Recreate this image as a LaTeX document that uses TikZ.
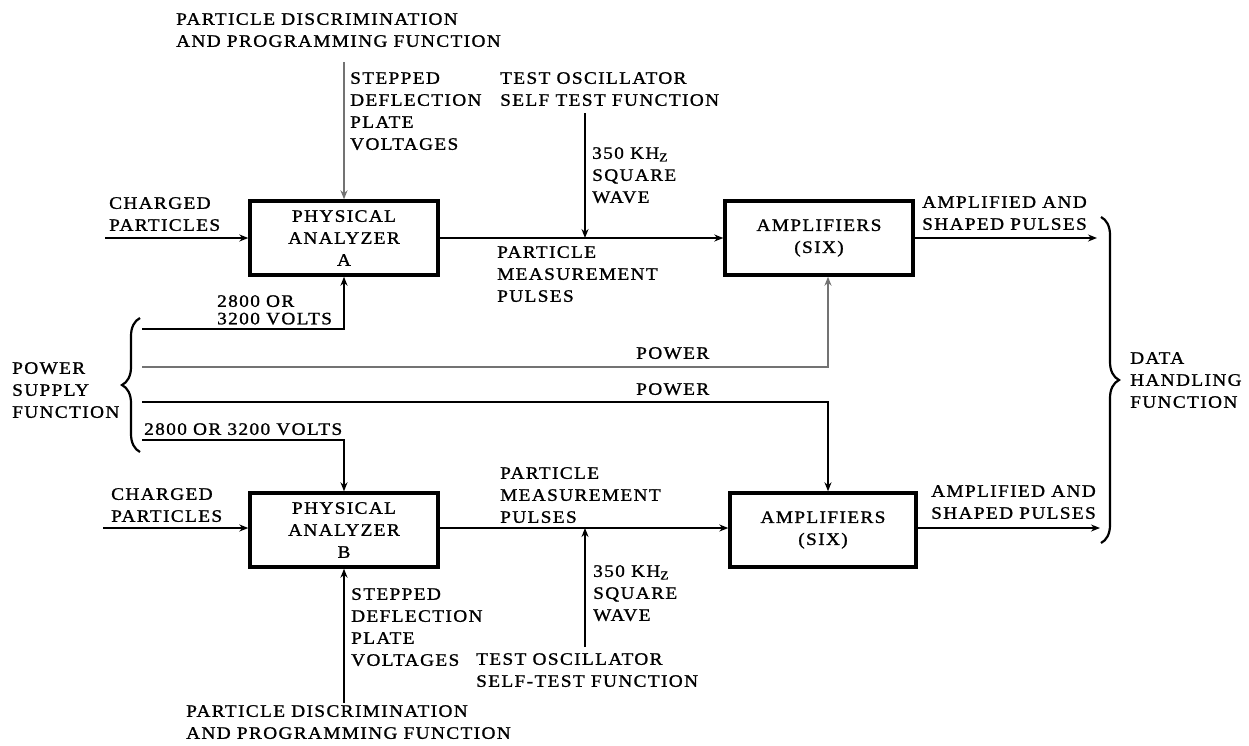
\documentclass[tikz,border=0pt]{standalone}
\usepackage{fontspec}
\setmainfont{Liberation Serif}[FakeStretch=1.1, LetterSpace=8, FakeBold=1.2]
\usetikzlibrary{arrows.meta, positioning, decorations.pathreplacing}

\newcommand{\lbfont}{\fontsize{17.5}{22}\selectfont}

\begin{document}
\begin{tikzpicture}[x=1pt, y=-1pt, >={Stealth[length=9pt,width=7pt]},
    box/.style={draw, line width=3.4pt, minimum width=188pt, minimum height=74pt,
                inner sep=0pt, align=center, font=\lbfont},
    lbl/.style={anchor=north west, inner sep=0pt, align=left, font=\lbfont},
    conn/.style={->, line width=2pt},
    faint/.style={draw=black!55},
    curly/.style={decorate, line width=2.2pt, decoration={brace, amplitude=18pt}}]
    \useasboundingbox (0,0) rectangle (1249,745);

    % blocks
    \node[box] (anaA) at (344,238) {PHYSICAL\\ANALYZER\\A};
    \node[box] (ampA) at (819,238) {AMPLIFIERS\\(SIX)};
    \node[box] (anaB) at (344,530) {PHYSICAL\\ANALYZER\\B};
    \node[box, minimum width=186pt] (ampB) at (823,530) {AMPLIFIERS\\(SIX)};

    % free ends
    \coordinate (chA) at (105,238);
    \coordinate (chB) at (103,528);
    \coordinate (sdA) at (344,62);
    \coordinate (sdB) at (344,703);
    \coordinate (oscA) at (585,113);
    \coordinate (oscB) at (585,647);
    \coordinate (outA) at (1097,238);
    \coordinate (outB) at (1100,528);
    \coordinate (hvA) at (142,329);
    \coordinate (pwA) at (142,367);
    \coordinate (pwB) at (142,402);
    \coordinate (hvB) at (142,440);
    \coordinate (pwcol) at (828,0);

    % labels
    \node[lbl] (disA) at (176,13) {PARTICLE DISCRIMINATION\\AND PROGRAMMING FUNCTION};
    \node[lbl] (stepA) at (350,72) {STEPPED\\DEFLECTION\\PLATE\\VOLTAGES};
    \node[lbl] (tstA) at (500,72) {TEST OSCILLATOR\\SELF TEST FUNCTION};
    \node[lbl] (sqA) at (592,147) {350 KH\textsubscript{Z}\\SQUARE\\WAVE};
    \node[lbl] (chtA) at (109,197) {CHARGED\\PARTICLES};
    \node[lbl] (pmA) at (497,246) {PARTICLE\\MEASUREMENT\\PULSES};
    \node[lbl] (apA) at (922,196) {AMPLIFIED AND\\SHAPED PULSES};
    \node[lbl] (vA) at (217,295) {2800 OR\\[-4.5pt]3200 VOLTS};
    \node[lbl] (pwtA) at (636,347) {POWER};
    \node[lbl] (psf) at (12,362) {POWER\\SUPPLY\\FUNCTION};
    \node[lbl] (pwtB) at (636,383) {POWER};
    \node[lbl] (vB) at (144,423) {2800 OR 3200 VOLTS};
    \node[lbl] (dhf) at (1130,352) {DATA\\HANDLING\\FUNCTION};
    \node[lbl] (pmB) at (500,467) {PARTICLE\\MEASUREMENT\\PULSES};
    \node[lbl] (chtB) at (111,488) {CHARGED\\PARTICLES};
    \node[lbl] (apB) at (931,485) {AMPLIFIED AND\\SHAPED PULSES};
    \node[lbl] (sqB) at (593,565) {350 KH\textsubscript{Z}\\SQUARE\\WAVE};
    \node[lbl] (stepB) at (351,588) {STEPPED\\DEFLECTION\\PLATE\\VOLTAGES};
    \node[lbl] (tstB) at (476,653) {TEST OSCILLATOR\\SELF-TEST FUNCTION};
    \node[lbl] (disB) at (186,705) {PARTICLE DISCRIMINATION\\AND PROGRAMMING FUNCTION};

    % upper channel
    \draw[conn] (chA) -- (anaA.west);
    \draw[conn, faint] (sdA) -- (anaA.north);
    \draw[conn] (anaA.east) -- (ampA.west);
    \draw[conn] (oscA) -- (oscA |- anaA.east);
    \draw[conn] (ampA.east) -- (outA);

    % power supply
    \draw[conn] (hvA) -| (anaA.south);
    \draw[conn, faint] (pwA) -| (pwcol |- ampA.south);
    \draw[conn] (pwB) -| (pwcol |- ampB.north);
    \draw[conn] (hvB) -| (anaB.north);

    % lower channel
    \draw[conn] (chB) -- (chB -| anaB.west);
    \draw[conn] (sdB) -- (anaB.south);
    \draw[conn] (anaB.east |- outB) -- (ampB.west |- outB);
    \draw[conn] (oscB) -- (oscB |- outB);
    \draw[conn] (ampB.east |- outB) -- (outB);

    % braces
    \draw[curly] (140,452) -- (140,318);
    \draw[curly] (1101,217) -- (1101,543);
\end{tikzpicture}
\end{document}
